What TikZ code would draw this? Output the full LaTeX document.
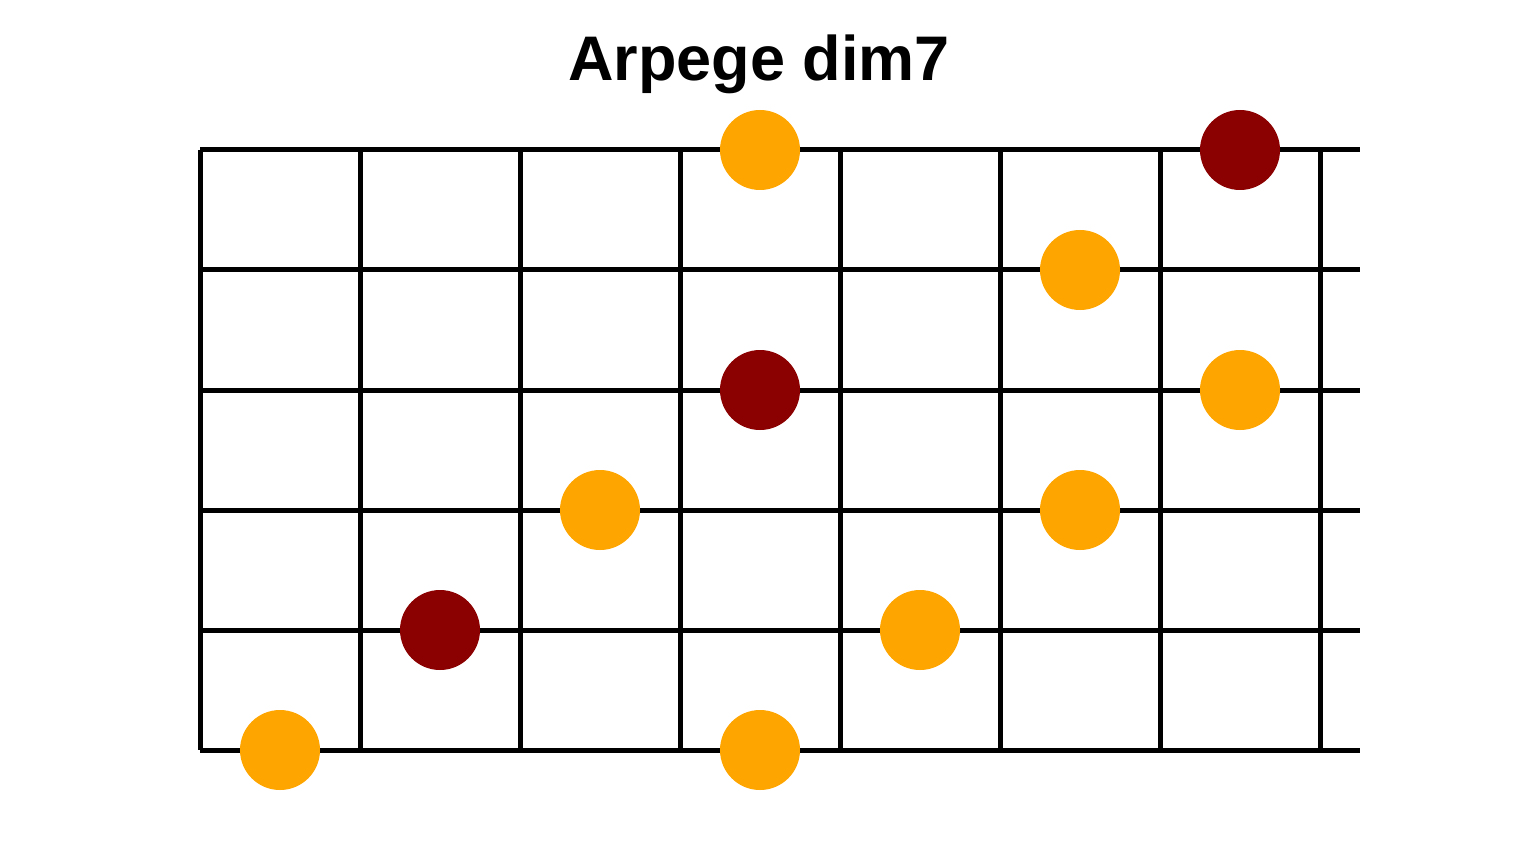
\documentclass[tikz,border=0pt]{standalone}
\usepackage{fontspec}
\setmainfont{Liberation Sans}
\definecolor{dotorange}{HTML}{FFA500}
\definecolor{dotred}{HTML}{8B0000}
\begin{document}
\begin{tikzpicture}[x=1pt,y=-1pt,
  gridline/.style={line width=5pt,black},
  note/.style={circle,inner sep=0pt,minimum size=80pt,draw=none},
  onote/.style={note,fill=dotorange},
  rnote/.style={note,fill=dotred}]
\useasboundingbox (0,0) rectangle (1520,850);
\node[anchor=base,font=\bfseries\fontsize{63}{76}\selectfont] (title) at (759,81) {Arpege dim7};
\foreach \y in {150,270,390,510,630,750}
  \draw[gridline] (200,\y) -- (1360,\y);
\foreach \x in {200,360,520,680,840,1000,1160,1320}
  \draw[gridline] (\x,150) -- (\x,750);
\node[onote] (n1) at (760,150) {};
\node[rnote] (n2) at (1240,150) {};
\node[onote] (n3) at (1080,270) {};
\node[rnote] (n4) at (760,390) {};
\node[onote] (n5) at (1240,390) {};
\node[onote] (n6) at (600,510) {};
\node[onote] (n7) at (1080,510) {};
\node[rnote] (n8) at (440,630) {};
\node[onote] (n9) at (920,630) {};
\node[onote] (n10) at (280,750) {};
\node[onote] (n11) at (760,750) {};
\end{tikzpicture}
\end{document}
